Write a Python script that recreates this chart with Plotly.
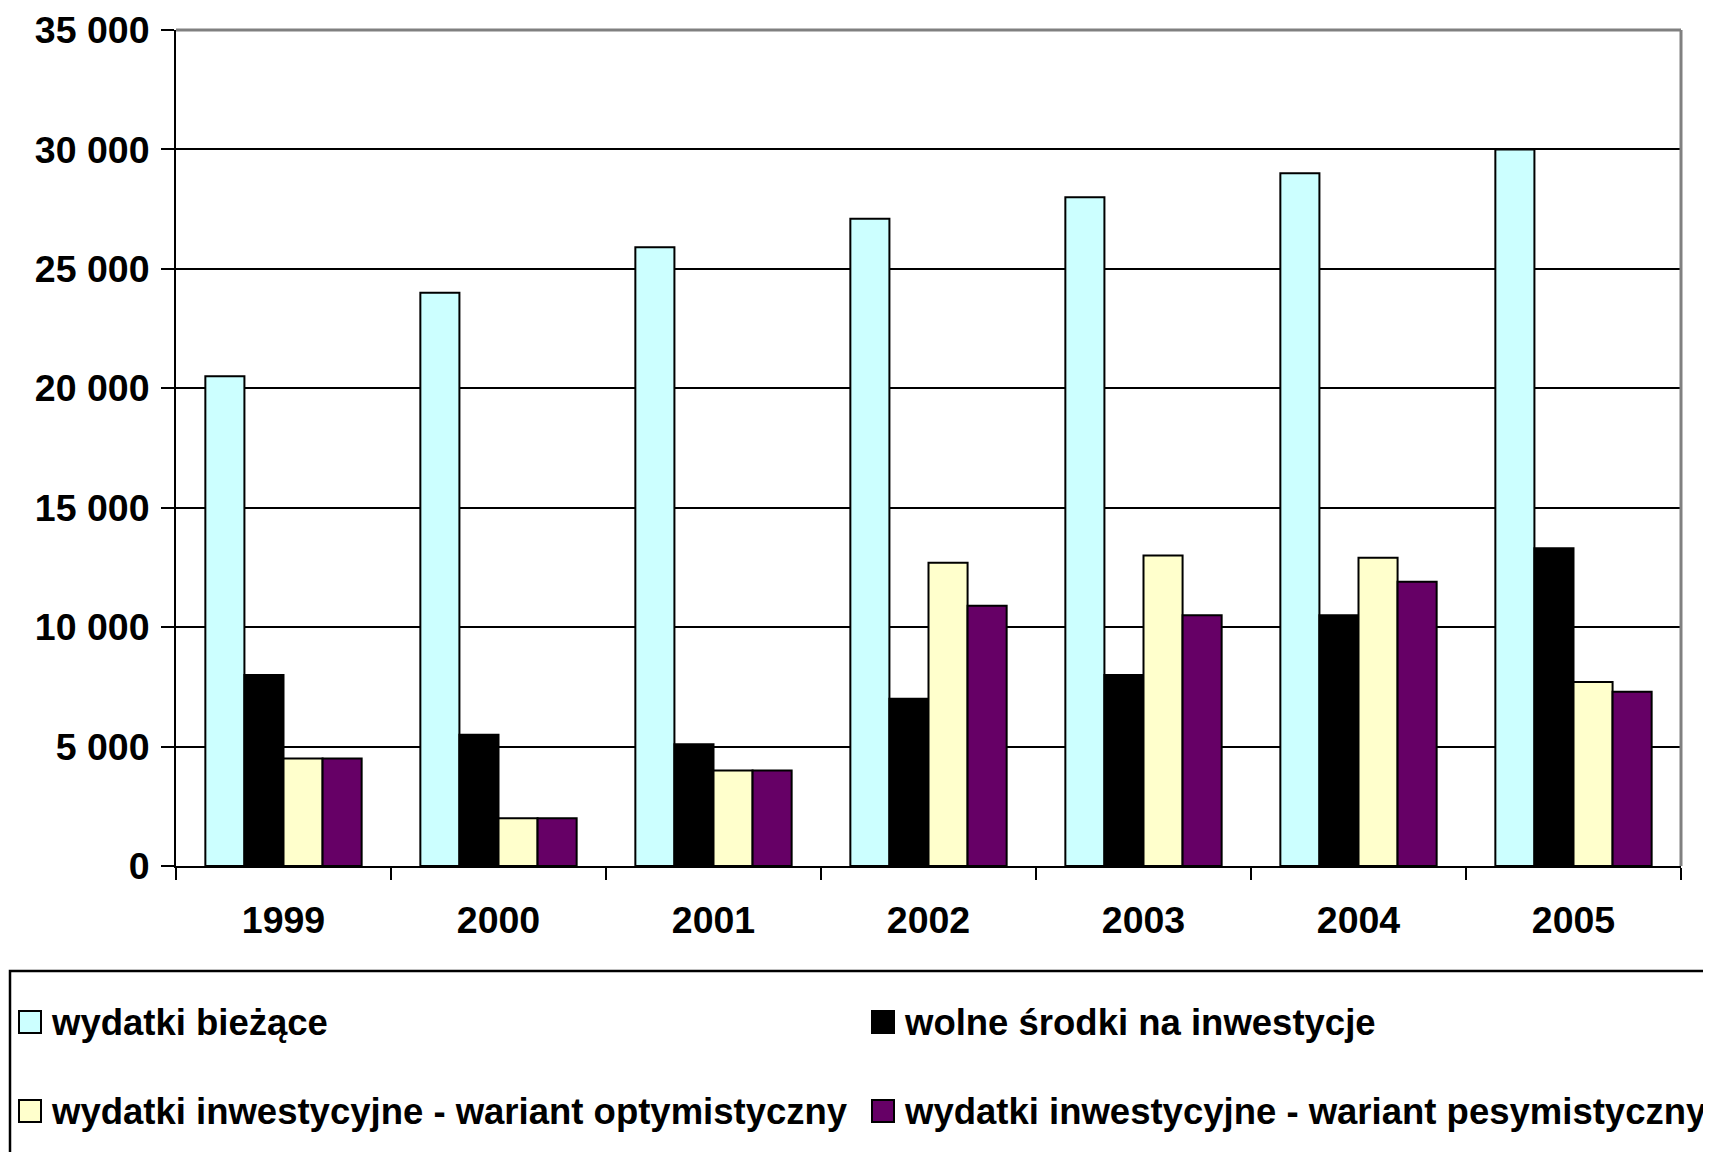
"""Wydatki bieżące i inwestycyjne 1999-2005 - grouped bar chart."""

import plotly.graph_objects as go

YEARS = ["1999", "2000", "2001", "2002", "2003", "2004", "2005"]

WYDATKI_BIEZACE = [20500, 24000, 25900, 27100, 28000, 29000, 30000]
WOLNE_SRODKI = [8000, 5500, 5100, 7000, 8000, 10500, 13300]
INWEST_OPTYM = [4500, 2000, 4000, 12700, 13000, 12900, 7700]
INWEST_PESYM = [4500, 2000, 4000, 10900, 10500, 11900, 7300]

SERIES_NAMES = [
    "wydatki bieżące",
    "wolne środki na inwestycje",
    "wydatki inwestycyjne - wariant optymistyczny",
    "wydatki inwestycyjne - wariant pesymistyczny",
]
SERIES_VALUES = [WYDATKI_BIEZACE, WOLNE_SRODKI, INWEST_OPTYM, INWEST_PESYM]
SERIES_COLORS = ["#CCFFFF", "#000000", "#FFFFCC", "#660066"]

FONT = "Liberation Sans, Arial, sans-serif"
W, H = 1711, 1152
# page offset (body margin) of the plot div
OFF = 8
# plot area in page pixels, converted to figure pixels
L, R, T, B = 176 - OFF, 1681 - OFF, 30 - OFF, 866 - OFF


def px_x(x):
    return (x - OFF - L) / (R - L)


def px_y(y):
    return (B - (y - OFF)) / (B - T)


fig = go.Figure()
for name, vals, col in zip(SERIES_NAMES, SERIES_VALUES, SERIES_COLORS):
    fig.add_trace(
        go.Bar(
            x=YEARS,
            y=vals,
            name=name,
            marker=dict(color=col, line=dict(color="#000000", width=2)),
        )
    )

fig.update_layout(
    width=W,
    height=H,
    margin=dict(l=L, r=W - R, t=T, b=H - B, pad=0, autoexpand=False),
    barmode="group",
    bargap=0.273,
    bargroupgap=0,
    plot_bgcolor="#FFFFFF",
    paper_bgcolor="#FFFFFF",
    showlegend=False,
    separators=", ",
    font=dict(family=FONT, size=36, color="#000000", weight="bold"),
)
fig.update_yaxes(
    range=[0, 35000],
    dtick=5000,
    tickformat=",d",
    automargin=False,
    showgrid=True,
    gridcolor="#000000",
    gridwidth=2,
    zeroline=False,
    showline=True,
    linecolor="#000000",
    linewidth=2,
    ticks="outside",
    ticklen=13,
    tickwidth=2,
    tickcolor="#000000",
    ticklabelstandoff=4,
    tickfont=dict(family=FONT, size=37.5, color="#000000", weight="bold"),
)
fig.update_xaxes(
    type="category",
    automargin=False,
    showgrid=False,
    showline=True,
    linecolor="#000000",
    linewidth=2,
    ticks="outside",
    tickson="boundaries",
    ticklen=12,
    tickwidth=2,
    tickcolor="#000000",
    ticklabelstandoff=20,
    tickfont=dict(family=FONT, size=37.5, color="#000000", weight="bold"),
)

# grey plot-area border on top and right
for x0, y0, x1, y1 in [(0, 1, 1, 1), (1, 0, 1, 1)]:
    fig.add_shape(
        type="line", xref="x domain", yref="y domain",
        x0=x0, y0=y0, x1=x1, y1=y1,
        line=dict(color="#808080", width=3), layer="above",
    )

# legend box (runs off the right and bottom edge, as in the original)
fig.add_shape(
    type="rect", xref="paper", yref="paper",
    x0=px_x(10), y0=px_y(1175), x1=px_x(1740), y1=px_y(971),
    line=dict(color="#000000", width=2.5), fillcolor="rgba(0,0,0,0)",
)

legend_pos = [(19, 1022), (872, 1022), (19, 1111), (872, 1111)]
sw = 22
for name, col, (lx, ly) in zip(SERIES_NAMES, SERIES_COLORS, legend_pos):
    fig.add_shape(
        type="rect", xref="paper", yref="paper",
        x0=px_x(lx), x1=px_x(lx + sw),
        y0=px_y(ly + sw / 2), y1=px_y(ly - sw / 2),
        fillcolor=col, line=dict(color="#000000", width=2),
    )
    fig.add_annotation(
        xref="paper", yref="paper",
        x=px_x(lx + sw + 8), y=px_y(ly),
        xanchor="left", yanchor="middle",
        text=name, showarrow=False,
        font=dict(family=FONT, size=36.5, color="#000000", weight="bold"),
    )

fig.write_html("out.html")
